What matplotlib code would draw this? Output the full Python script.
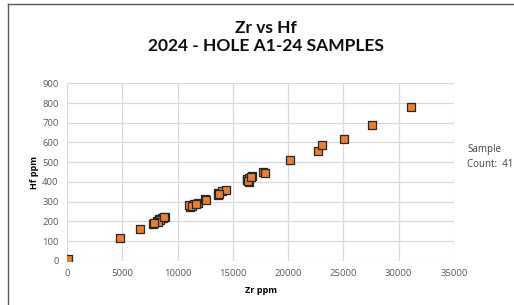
import matplotlib
matplotlib.use("Agg")
import matplotlib.pyplot as plt
from matplotlib.lines import Line2D

zr_ppm = [100, 4760, 6630,
          7800, 8100, 8300, 8600, 8900, 8700, 8450, 8200, 8800,
          11120, 11060, 11490, 11880, 11300, 11700,
          12510, 12550, 13680, 13630, 13990, 14380, 13750,
          16310, 16250, 16730, 16490, 16460, 16400, 16600,
          17700, 17940,
          20200, 22730, 23090, 25020, 27610, 31110, 7900]
hf_ppm = [8, 114, 159,
          186, 200, 212, 218, 222, 215, 208, 195, 220,
          274, 283, 288, 294, 280, 290,
          312, 308, 332, 345, 355, 357, 340,
          410, 413, 430, 401, 418, 405, 425,
          449, 444,
          511, 555, 586, 616, 689, 779, 190]

x_ticks = [0, 5000, 10000, 15000, 20000, 25000, 30000, 35000]
y_ticks = [0, 100, 200, 300, 400, 500, 600, 700, 800, 900]

title_lines = ["Zr vs Hf", "2024 - HOLE A1-24 SAMPLES"]
x_label = "Zr ppm"
y_label = "Hf ppm"
note = "Sample\nCount:  41"

plt.rcParams['font.family'] = ['Open Sans', 'DejaVu Sans']

fig = plt.figure(figsize=(5.14, 3.05), dpi=100)
ax = fig.add_axes([0.1304, 0.1452, 0.8833 - 0.1304, 0.7269 - 0.1452])

ax.scatter(zr_ppm, hf_ppm, marker='s', s=26, facecolor='#ED7D31',
           edgecolor='#262626', linewidth=0.9, zorder=3)

ax.set_xlim(0, 35000)
ax.set_ylim(0, 900)
ax.set_xticks(x_ticks)
ax.set_yticks(y_ticks)
ax.set_xticklabels([str(t) for t in x_ticks])
ax.set_yticklabels([str(t) for t in y_ticks])
ax.grid(True, color='#D9D9D9', linewidth=0.9)
ax.set_axisbelow(True)
for s in ax.spines.values():
    s.set_visible(False)
ax.tick_params(length=0, labelsize=6.8, labelcolor='#595959', pad=6)

ax.set_xlabel(x_label, fontsize=6.5, fontweight='bold', labelpad=6)
ax.set_ylabel(y_label, fontsize=6.5, fontweight='bold', labelpad=2)

title_font = ['Lato', 'DejaVu Sans']
fig.text(266 / 514, 1 - 28 / 305, title_lines[0], ha='center', va='center',
         fontsize=12.5, fontweight='bold', color='#0D0D0D', family=title_font)
fig.text(266 / 514, 1 - 46 / 305, title_lines[1], ha='center', va='center',
         fontsize=12.5, fontweight='bold', color='#0D0D0D', family=title_font)

fig.text(467 / 514, 1 - 157 / 305, note, ha='left', va='center',
         fontsize=7, color='#404040', linespacing=1.5)

fig.add_artist(Line2D([8 / 514, 8 / 514], [0, 1 - 4 / 305], transform=fig.transFigure,
                      color='#595959', linewidth=1.0))
fig.add_artist(Line2D([8 / 514, 1], [1 - 4 / 305, 1 - 4 / 305], transform=fig.transFigure,
                      color='#595959', linewidth=1.0))

fig.savefig("out.png", dpi=100)
